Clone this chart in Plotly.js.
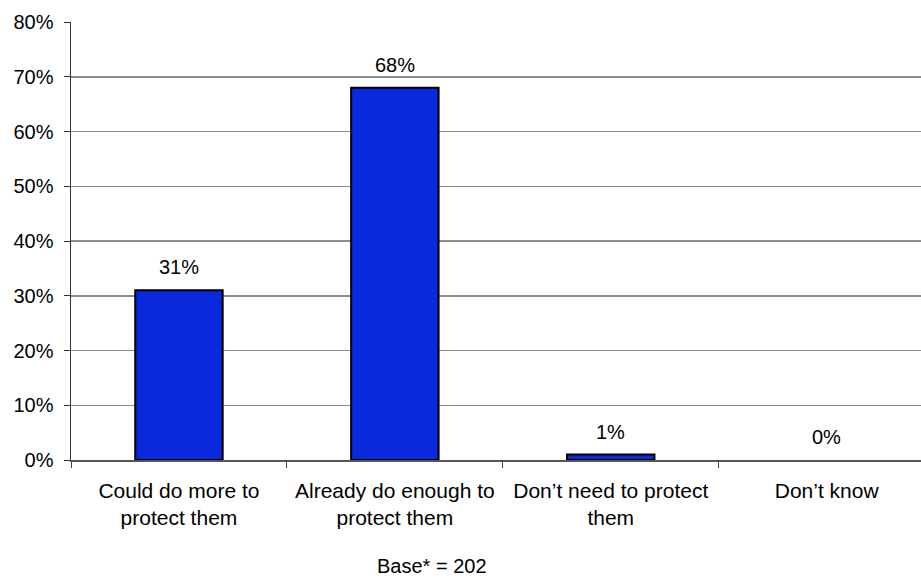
<!DOCTYPE html>
<html>
<head>
<meta charset="utf-8">
<script src="https://cdn.plot.ly/plotly-3.0.1.min.js"></script>
<style>
html,body{margin:0;padding:0;background:#fff;}
#chart{width:921px;height:578px;}
</style>
</head>
<body>
<div id="chart"></div>
<script>
var categories = ["Could do more to<br>protect them", "Already do enough to<br>protect them", "Don\u2019t need to protect<br>them", "Don\u2019t know"];
var values = [31, 68, 1, 0];
var valueLabels = ["31%", "68%", "1%", "0%"];
var yTickVals = [0, 10, 20, 30, 40, 50, 60, 70, 80];
var yTickText = ["0%", "10%", "20%", "30%", "40%", "50%", "60%", "70%", "80%"];
var baseNote = "Base* = 202";

var FONT = "Liberation Sans, Arial, sans-serif";

var trace = {
  type: "bar",
  x: categories,
  y: values,
  marker: {
    color: "#0a28dc",
    line: {color: "#000000", width: values.map(function (v) { return v > 0 ? 2 : 0; })}
  },
  hoverinfo: "none"
};

var annotations = values.map(function (v, i) {
  return {
    x: categories[i], y: v, xref: "x", yref: "y",
    text: valueLabels[i], showarrow: false,
    yanchor: "bottom", yshift: 10,
    font: {family: FONT, size: 20, color: "#000"}
  };
});
annotations.push({
  x: 0.425, y: 0, xref: "paper", yref: "paper",
  yanchor: "middle", yshift: -(566 - 460.5),
  text: baseNote, showarrow: false,
  font: {family: FONT, size: 20, color: "#000"}
});

var layout = {
  width: 921, height: 578,
  margin: {l: 71, r: 0, t: 22, b: 118, pad: 0},
  paper_bgcolor: "#fff", plot_bgcolor: "#fff",
  showlegend: false,
  bargap: 0.595,
  font: {family: FONT, size: 20, color: "#000"},
  xaxis: {
    type: "category",
    range: [-0.5, 3.437],
    tickson: "boundaries",
    ticks: "outside", ticklen: 6, tickcolor: "#444", tickwidth: 1,
    showline: true, linecolor: "#555", linewidth: 1.5,
    showgrid: false, zeroline: false,
    ticklabelstandoff: 11,
    tickfont: {family: FONT, size: 21, color: "#000"},
    fixedrange: true
  },
  yaxis: {
    range: [0, 80],
    tickvals: yTickVals,
    ticktext: yTickText,
    ticks: "outside", ticklen: 6, tickcolor: "#333", tickwidth: 1,
    showline: true, linecolor: "#333", linewidth: 1.5,
    showgrid: true, gridcolor: "#8c8c8c", gridwidth: 1.5,
    zeroline: false,
    ticklabelstandoff: 6,
    tickfont: {family: FONT, size: 20, color: "#000"},
    fixedrange: true
  },
  annotations: annotations
};

Plotly.newPlot("chart", [trace], layout, {displayModeBar: false, staticPlot: true});
</script>
</body>
</html>
